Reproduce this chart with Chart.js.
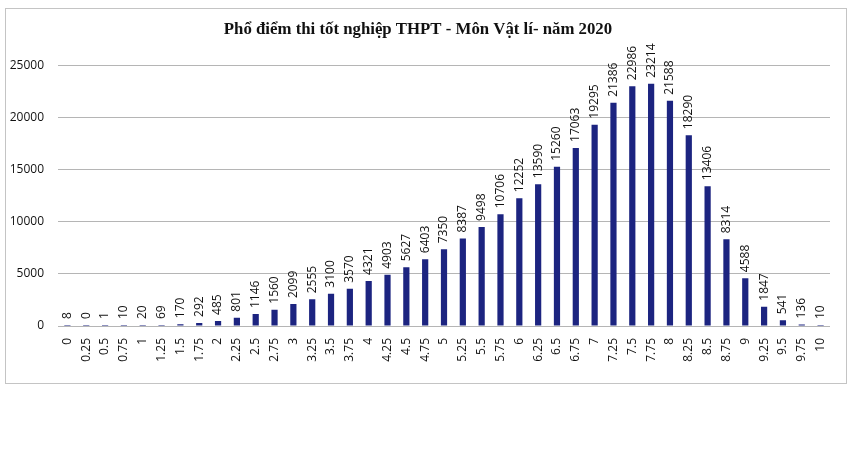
<!DOCTYPE html>
<html>
<head>
<meta charset="utf-8">
<script src="https://cdn.jsdelivr.net/npm/chart.js@4"></script>
<style>
    body { margin: 0; background: #fff; }
    #box { position: absolute; left: 5px; top: 8px; width: 842px; height: 376px; border: 1px solid #c4c4c4; box-sizing: border-box; }
</style>
</head>
<body>
<div id="box"><canvas id="chart" width="840" height="374"></canvas></div>
<script>
scores = ['0', '0.25', '0.5', '0.75', '1', '1.25', '1.5', '1.75', '2', '2.25', '2.5', '2.75', '3', '3.25', '3.5', '3.75',
    '4', '4.25', '4.5', '4.75', '5', '5.25', '5.5', '5.75', '6', '6.25', '6.5', '6.75', '7', '7.25', '7.5', '7.75',
    '8', '8.25', '8.5', '8.75', '9', '9.25', '9.5', '9.75', '10'];
students = [8, 0, 1, 10, 20, 69, 170, 292, 485, 801, 1146, 1560, 2099, 2555, 3100, 3570,
    4321, 4903, 5627, 6403, 7350, 8387, 9498, 10706, 12252, 13590, 15260, 17063, 19295, 21386, 22986, 23214,
    21588, 18290, 13406, 8314, 4588, 1847, 541, 136, 10];
yTicks = [0, 5000, 10000, 15000, 20000, 25000];
titleText = 'Phổ điểm thi tốt nghiệp THPT - Môn Vật lí- năm 2020';

Chart.defaults.font.family = '"Open Sans", sans-serif';
Chart.defaults.font.size = 12;
Chart.defaults.color = '#111';

// vertical value labels above each bar
valueLabels = {
    id: 'valueLabels',
    afterDatasetsDraw(chart) {
        var ctx = chart.ctx;
        var meta = chart.getDatasetMeta(0);
        ctx.save();
        ctx.font = '12px "Open Sans", sans-serif';
        ctx.fillStyle = '#111';
        ctx.textAlign = 'left';
        ctx.textBaseline = 'middle';
        meta.data.forEach((bar, i) => {
            ctx.save();
            ctx.translate(bar.x, bar.y - 6);
            ctx.rotate(-Math.PI / 2);
            ctx.fillText(String(students[i]), 0, 0);
            ctx.restore();
        });
        ctx.restore();
    }
};

new Chart(document.getElementById('chart'), {
    type: 'bar',
    data: {
        labels: scores,
        datasets: [{
            data: students,
            backgroundColor: '#1c2480',
            barPercentage: 0.33,
            categoryPercentage: 1,
            minBarLength: 1
        }]
    },
    options: {
        responsive: false,
        animation: false,
        layout: { padding: { right: 16 } },
        scales: {
            x: {
                grid: { display: false },
                border: { display: false },
                ticks: { minRotation: 90, maxRotation: 90, autoSkip: false, padding: 4 },
                afterFit: s => { s.height = 57; }
            },
            y: {
                min: 0,
                max: 25000,
                afterBuildTicks: s => { s.ticks = yTicks.map(v => ({ value: v })); },
                grid: { color: '#b5b5b5', drawTicks: false },
                border: { display: false },
                ticks: { padding: 14, callback: v => String(v) },
                afterFit: s => { s.width = 52; }
            }
        },
        plugins: {
            legend: { display: false },
            tooltip: { enabled: false },
            title: {
                display: true,
                text: titleText,
                color: '#111',
                font: { family: '"Liberation Serif", serif', size: 16.8, weight: 'bold' },
                padding: { top: 11, bottom: 25 }
            }
        }
    },
    plugins: [valueLabels]
});
</script>
</body>
</html>
